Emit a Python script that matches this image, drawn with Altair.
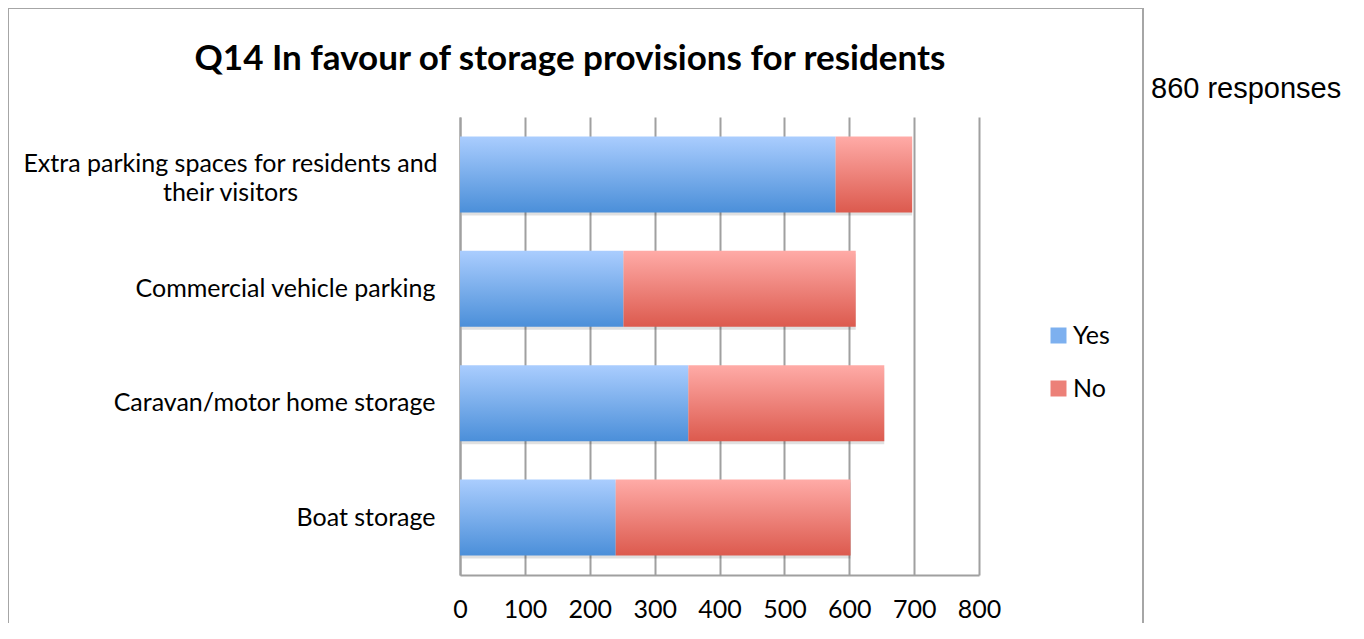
import altair as alt
import pandas as pd

categories = [
    "Extra parking spaces for residents and their visitors",
    "Commercial vehicle parking",
    "Caravan/motor home storage",
    "Boat storage",
]
yes_values = [579, 252, 352, 240]
no_values = [118, 358, 302, 362]
series = ["Yes", "No"]
series_colors = ["#7db0ef", "#ec8078"]
x_ticks = [0, 100, 200, 300, 400, 500, 600, 700, 800]
title_text = ["Q14 In favour of storage provisions for residents"]
note_text = ["860 responses"]

df = pd.DataFrame({"category": categories, "yes": yes_values, "no": no_values})
df["zero"] = 0
df["total"] = df["yes"] + df["no"]

blue_grad = alt.LinearGradient(
    gradient="linear", x1=0, y1=0, x2=0, y2=1,
    stops=[alt.GradientStop(color="#aacdfe", offset=0), alt.GradientStop(color="#4b8fd9", offset=1)],
)
red_grad = alt.LinearGradient(
    gradient="linear", x1=0, y1=0, x2=0, y2=1,
    stops=[alt.GradientStop(color="#ffaba7", offset=0), alt.GradientStop(color="#dc5a4e", offset=1)],
)

FONT = "Lato"
long_cat = categories[0]
test_long = "datum.value == '" + long_cat + "'"
label_expr = (
    "datum.label == '" + long_cat + "' ? "
    "['Extra parking spaces for residents and', 'their visitors'] : datum.label"
)

y_enc = alt.Y(
    "category:N", sort=categories, title=None,
    scale=alt.Scale(paddingInner=0.335, paddingOuter=0.17),
    axis=alt.Axis(
        labelExpr=label_expr, labelFont=FONT, labelFontSize=25, labelColor="black",
        labelPadding={"condition": {"test": test_long, "value": 230}, "value": 25},
        labelAlign={"condition": {"test": test_long, "value": "center"}, "value": "right"},
        labelOffset={"condition": {"test": test_long, "value": -10}, "value": 0},
        ticks=False, domainColor="#a0a0a0", domainWidth=2,
        grid=False, labelLimit=600, labelLineHeight=29,
    ),
)
x_scale = alt.Scale(domain=[0, 800], nice=False)
x_axis = alt.Axis(
    values=x_ticks, title=None, labelFont=FONT, labelFontSize=25, labelColor="black",
    labelPadding=22, ticks=False, domainColor="#a0a0a0", domainWidth=2,
    labelFlush=False, labelOverlap=False,
    grid=True, gridColor="#a0a0a0", gridWidth=2,
)

base = alt.Chart(df)

shadow = base.mark_bar(color="black", opacity=0.12, xOffset=2, yOffset=3).encode(
    x=alt.X("zero:Q", scale=x_scale, axis=x_axis), x2="total:Q", y=y_enc
)
yes_bar = base.mark_bar(color=blue_grad).encode(
    x=alt.X("zero:Q", scale=x_scale, axis=x_axis), x2="yes:Q", y=y_enc
)
no_bar = base.mark_bar(color=red_grad).encode(
    x=alt.X("yes:Q", scale=x_scale, axis=x_axis), x2="total:Q", y=y_enc
)

legend_layer = alt.Chart(pd.DataFrame({"series": series})).mark_square(opacity=0).encode(
    color=alt.Color(
        "series:N",
        scale=alt.Scale(domain=series, range=series_colors),
        legend=alt.Legend(
            title=None, orient="none", legendX=586, legendY=206,
            symbolType="square", symbolSize=256, symbolOpacity=1, symbolStrokeWidth=0,
            labelFont=FONT, labelFontSize=25, labelColor="black",
            rowPadding=27, labelOffset=2, padding=0,
        ),
    )
)

frame = alt.Chart(pd.DataFrame({"a": [0]})).mark_rect(
    fillOpacity=0, stroke="#a6a6a6", strokeWidth=2
).encode(x=alt.value(-452), x2=alt.value(683), y=alt.value(-109), y2=alt.value(700))

title = alt.Chart(pd.DataFrame({"t": title_text})).mark_text(
    align="center", baseline="alphabetic", font=FONT, fontSize=35, fontWeight="bold", color="black"
).encode(x=alt.value(110), y=alt.value(-47), text="t:N")

note = alt.Chart(pd.DataFrame({"t": note_text})).mark_text(
    align="left", baseline="alphabetic", font="Liberation Sans", fontSize=29, color="black"
).encode(x=alt.value(691), y=alt.value(-19), text="t:N")

chart = alt.layer(frame, shadow, yes_bar, no_bar, legend_layer, title, note).properties(
    width=519, height=458,
    autosize="none",
    padding={"left": 452, "top": 109, "right": 377, "bottom": 48},
).configure_view(stroke=None)

chart.save("out.html", embed_options={"renderer": "svg", "actions": False})
